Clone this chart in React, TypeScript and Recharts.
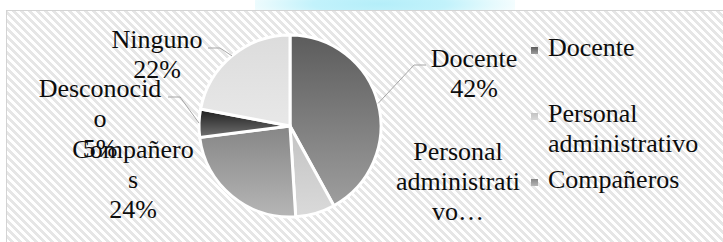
import { PieChart, Pie, Cell, Legend } from 'recharts';

const CATEGORIES = ['Docente', 'Personal administrativo', 'Compañeros', 'Desconocido', 'Ninguno'];
const VALUES = [42, 7, 24, 5, 22];

// how Excel wrapped each data label (cut: label got truncated with an ellipsis)
const LABEL_WRAP: Record<string, { lines: string[]; cut?: boolean }> = {
  'Docente': { lines: ['Docente'] },
  'Personal administrativo': { lines: ['Personal', 'administrati', 'vo…'], cut: true },
  'Compañeros': { lines: ['Compañero', 's'] },
  'Desconocido': { lines: ['Desconocid', 'o'] },
  'Ninguno': { lines: ['Ninguno'] },
};

// label placement relative to the pie centre; lead = end of the leader line
const LABEL_POS: Record<string, { dx: number; dy: number; lead?: [number, number] }> = {
  'Docente': { dx: 184, dy: -59, lead: [136, -61] },
  'Personal administrativo': { dx: 168, dy: 34 },
  'Compañeros': { dx: -157, dy: 32 },
  'Desconocido': { dx: -190, dy: -29, lead: [-122, -29] },
  'Ninguno': { dx: -133, dy: -78, lead: [-82, -78] },
};

const GRADS: Record<string, [string, string]> = {
  'Docente': ['#5c5c5c', '#9e9e9e'],
  'Personal administrativo': ['#c2c2c2', '#dadada'],
  'Compañeros': ['#868686', '#b6b6b6'],
  'Desconocido': ['#1c1c1c', '#727272'],
  'Ninguno': ['#dcdcdc', '#e8e8e8'],
};

const data = CATEGORIES.map((name, i) => ({ name, value: VALUES[i] }));

const FONT = '"Liberation Serif"';
const FS = 26;
const LH = 30;
const LEGEND_TOP = 33;
const LEGEND_ROW = 66;
const CHART_H = 242;

const renderLabel = (props: any) => {
  const { cx, cy, midAngle, outerRadius, percent } = props;
  const name: string = props.name ?? props.payload?.name;
  const pos = LABEL_POS[name];
  const wrap = LABEL_WRAP[name];
  if (!pos || !wrap) return null;
  const lines = wrap.cut ? wrap.lines : [...wrap.lines, `${Math.round(percent * 100)}%`];
  const RADIAN = Math.PI / 180;
  const x = cx + pos.dx;
  const y = cy + pos.dy;
  let leader = null;
  if (pos.lead) {
    const sx = cx + outerRadius * Math.cos(-midAngle * RADIAN);
    const sy = cy + outerRadius * Math.sin(-midAngle * RADIAN);
    const ex = cx + pos.lead[0];
    const ey = cy + pos.lead[1];
    const bx = ex + (pos.lead[0] > 0 ? -12 : 12);
    leader = (
      <polyline points={`${sx},${sy} ${bx},${ey} ${ex},${ey}`} fill="none" stroke="#a6a6a6" strokeWidth={1} />
    );
  }
  return (
    <g key={`lbl-${name}`}>
      {leader}
      <text x={x} y={y} textAnchor="middle" fill="#0d0d0d" style={{ fontFamily: FONT, fontSize: FS }}>
        {lines.map((l, i) => (
          <tspan key={i} x={x} dy={i === 0 ? 0 : LH}>
            {l}
          </tspan>
        ))}
      </text>
    </g>
  );
};

const renderLegend = (props: any) => {
  const payload: any[] = [...(props.payload || [])].sort(
    (a, b) => CATEGORIES.indexOf(a.value) - CATEGORIES.indexOf(b.value)
  );
  // Excel only keeps the entries that fit in the plot height
  const fits = Math.floor((CHART_H - LEGEND_TOP) / LEGEND_ROW);
  return (
    <div style={{ fontFamily: FONT, fontSize: FS, lineHeight: `${LH}px`, color: '#0d0d0d' }}>
      {payload.slice(0, fits).map((p) => {
        const g = GRADS[p.value] || ['#888', '#aaa'];
        return (
          <div key={p.value} style={{ position: 'relative', height: LEGEND_ROW, paddingLeft: 17, width: 175 }}>
            <span
              style={{
                position: 'absolute',
                left: 0,
                top: 14,
                width: 7,
                height: 7,
                background: `linear-gradient(${g[0]}, ${g[1]})`,
              }}
            />
            {p.value}
          </div>
        );
      })}
    </div>
  );
};

export default function App() {
  return (
    <div style={{ position: 'absolute', left: 0, top: 0, width: 723, height: CHART_H, overflow: 'hidden', background: '#fff' }}>
      <div
        style={{
          position: 'absolute',
          left: 255,
          top: -16,
          width: 260,
          height: 40,
          background: 'radial-gradient(ellipse at 48% 50%, #b4eef9 0%, #c2f2fb 35%, #e6fafd 60%, rgba(255,255,255,0) 80%)',
        }}
      />
      <div
        style={{
          position: 'absolute',
          left: 6,
          top: 10,
          width: 730,
          height: 240,
          border: '1px solid #d4d4d4',
          background: 'repeating-linear-gradient(45deg, #ffffff 0px, #ffffff 3px, #e6e6e6 3px, #e6e6e6 5.66px)',
        }}
      />
      <div style={{ position: 'absolute', left: 0, top: 0 }}>
        <PieChart width={723} height={CHART_H} margin={{ top: 0, right: 0, bottom: 0, left: 0 }}>
          <defs>
            {CATEGORIES.map((c, i) => (
              <linearGradient key={c} id={`grad-${i}`} x1="0" y1="0" x2="0" y2="1">
                <stop offset="0%" stopColor={GRADS[c][0]} />
                <stop offset="100%" stopColor={GRADS[c][1]} />
              </linearGradient>
            ))}
          </defs>
          <Pie
            data={data}
            dataKey="value"
            nameKey="name"
            cx={290}
            cy={126}
            outerRadius={91}
            startAngle={90}
            endAngle={-270}
            stroke="#fff"
            strokeWidth={3}
            label={renderLabel}
            labelLine={false}
            isAnimationActive={false}
          >
            {data.map((entry, i) => (
              <Cell key={`cell-${entry.name}`} fill={`url(#grad-${i})`} />
            ))}
          </Pie>
          <Legend
            layout="vertical"
            align="right"
            verticalAlign="top"
            content={renderLegend}
            wrapperStyle={{ left: 531, top: LEGEND_TOP, right: 'auto', width: 192 }}
          />
        </PieChart>
      </div>
    </div>
  );
}
